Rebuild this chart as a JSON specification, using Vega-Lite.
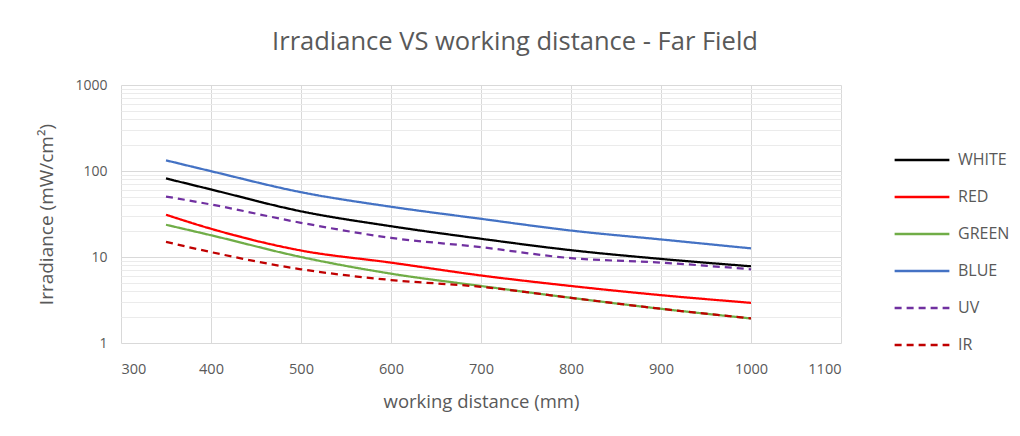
{
  "$schema": "https://vega.github.io/schema/vega-lite/v6.json",
  "width": 720,
  "height": 258,
  "autosize": {"type": "none"},
  "padding": {"left": 121, "top": 85, "right": 179, "bottom": 93},
  "background": "white",
  "title": {"text": "Irradiance VS working distance - Far Field", "fontSize": 25.5, "font": "Open Sans", "fontWeight": "normal", "color": "#595959", "anchor": "middle", "dx": 34, "offset": 23},
  "config": {"view": {"stroke": null}},
  "data": {"values": [
    {"d": 350, "s": "WHITE", "v": 82}, {"d": 400, "s": "WHITE", "v": 61}, {"d": 500, "s": "WHITE", "v": 34}, {"d": 600, "s": "WHITE", "v": 22.8}, {"d": 700, "s": "WHITE", "v": 16.3}, {"d": 800, "s": "WHITE", "v": 12}, {"d": 900, "s": "WHITE", "v": 9.5}, {"d": 1000, "s": "WHITE", "v": 7.8},
    {"d": 350, "s": "RED", "v": 31}, {"d": 400, "s": "RED", "v": 21.3}, {"d": 500, "s": "RED", "v": 11.9}, {"d": 600, "s": "RED", "v": 8.6}, {"d": 700, "s": "RED", "v": 6.1}, {"d": 800, "s": "RED", "v": 4.6}, {"d": 900, "s": "RED", "v": 3.6}, {"d": 1000, "s": "RED", "v": 2.93},
    {"d": 350, "s": "GREEN", "v": 23.7}, {"d": 400, "s": "GREEN", "v": 17.9}, {"d": 500, "s": "GREEN", "v": 10}, {"d": 600, "s": "GREEN", "v": 6.4}, {"d": 700, "s": "GREEN", "v": 4.6}, {"d": 800, "s": "GREEN", "v": 3.35}, {"d": 900, "s": "GREEN", "v": 2.5}, {"d": 1000, "s": "GREEN", "v": 1.93},
    {"d": 350, "s": "BLUE", "v": 133}, {"d": 400, "s": "BLUE", "v": 99.5}, {"d": 500, "s": "BLUE", "v": 56.7}, {"d": 600, "s": "BLUE", "v": 38.4}, {"d": 700, "s": "BLUE", "v": 27.8}, {"d": 800, "s": "BLUE", "v": 20.3}, {"d": 900, "s": "BLUE", "v": 16}, {"d": 1000, "s": "BLUE", "v": 12.6},
    {"d": 350, "s": "UV", "v": 50.5}, {"d": 400, "s": "UV", "v": 40.8}, {"d": 500, "s": "UV", "v": 25}, {"d": 600, "s": "UV", "v": 16.7}, {"d": 700, "s": "UV", "v": 13}, {"d": 800, "s": "UV", "v": 9.7}, {"d": 900, "s": "UV", "v": 8.6}, {"d": 1000, "s": "UV", "v": 7.2},
    {"d": 350, "s": "IR", "v": 15}, {"d": 400, "s": "IR", "v": 11.4}, {"d": 500, "s": "IR", "v": 7.2}, {"d": 600, "s": "IR", "v": 5.4}, {"d": 700, "s": "IR", "v": 4.5}, {"d": 800, "s": "IR", "v": 3.35}, {"d": 900, "s": "IR", "v": 2.5}, {"d": 1000, "s": "IR", "v": 1.93}
  ]},
  "mark": {"type": "line", "strokeWidth": 2.25, "interpolate": "monotone"},
  "encoding": {
    "x": {"field": "d", "type": "quantitative", "title": "working distance (mm)",
      "scale": {"domain": [300, 1100], "nice": false, "zero": false},
      "axis": {"values": [300, 400, 500, 600, 700, 800, 900, 1000, 1100], "format": "d", "grid": true, "gridColor": "#d9d9d9", "domain": false, "ticks": false, "labelPadding": 19, "labelFont": "Open Sans", "labelFontSize": 14.5, "labelColor": "#595959", "titleFont": "Open Sans", "titleFontSize": 18.5, "titleFontWeight": "normal", "titleColor": "#595959", "titlePadding": 17}},
    "y": {"field": "v", "type": "quantitative", "title": "Irradiance (mW/cm²)",
      "scale": {"type": "log", "domain": [1, 1000], "nice": false},
      "axis": {"values": [1,2,3,4,5,6,7,8,9,10,20,30,40,50,60,70,80,90,100,200,300,400,500,600,700,800,900,1000],
        "format": "d",
        "labelExpr": "indexof([1,10,100,1000], datum.value) >= 0 ? datum.label : ''",
        "grid": true,
        "gridColor": {"condition": {"test": "indexof([1,10,100,1000], datum.value) >= 0", "value": "#d9d9d9"}, "value": "#ebebeb"},
        "domain": false, "ticks": false, "labelPadding": 14, "labelFont": "Open Sans", "labelFontSize": 14, "labelColor": "#595959", "titleFont": "Open Sans", "titleFontSize": 19, "titleFontWeight": "normal", "titleColor": "#595959", "titlePadding": 18}},
    "color": {"field": "s", "type": "nominal", "title": null,
      "scale": {"domain": ["WHITE", "RED", "GREEN", "BLUE", "UV", "IR"], "range": ["#000000", "#ff0000", "#70ad47", "#4472c4", "#7030a0", "#c00000"]},
      "legend": {"orient": "none", "legendX": 772, "legendY": 46, "symbolType": "stroke", "symbolSize": 3000, "symbolStrokeWidth": 2.5, "labelFont": "Open Sans", "labelFontSize": 16, "labelColor": "#595959", "rowPadding": 0, "labelOffset": 7}},
    "strokeDash": {"field": "s", "type": "nominal", "title": null,
      "scale": {"domain": ["WHITE", "RED", "GREEN", "BLUE", "UV", "IR"], "range": [[1, 0], [1, 0], [1, 0], [1, 0], [7, 5], [7, 5]]}}
  }
}
